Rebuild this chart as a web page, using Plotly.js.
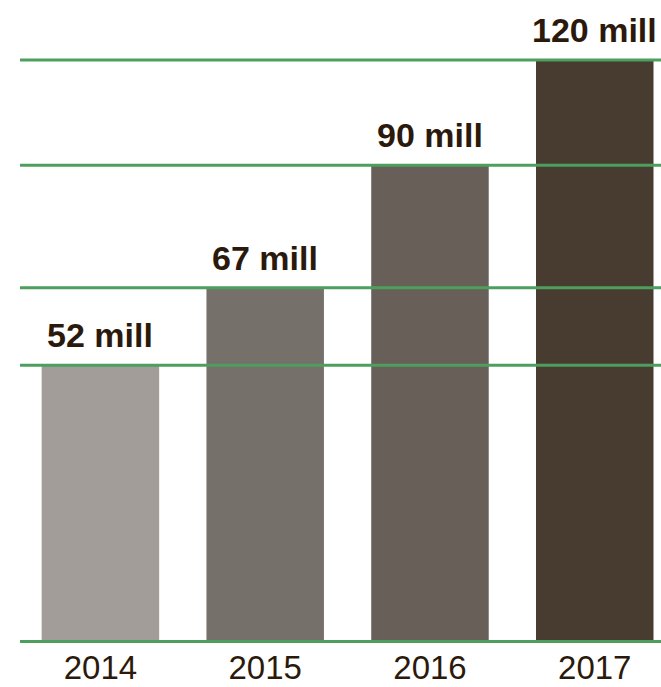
<!DOCTYPE html>
<html>
<head>
<meta charset="utf-8">
<script src="https://cdn.plot.ly/plotly-3.0.1.min.js"></script>
<style>html,body{margin:0;padding:0;background:#fff;}#chart{width:661px;height:687px;}</style>
</head>
<body>
<div id="chart"></div>
<script>
// Data
var years = ["2014", "2015", "2016", "2017"];
var valueLabels = ["52 mill", "67 mill", "90 mill", "120 mill"];
// Bar heights as drawn in the picture (the drawing is not to the labelled scale)
var barHeights = [57, 73, 98.3, 120];
var barColors = ["#a29d99", "#76706b", "#685f59", "#483b30"];

var green = "#4c9f5c";
var textColor = "#2b1a0c";

var trace = {
  type: "bar",
  x: years,
  y: barHeights,
  width: 0.713,
  marker: { color: barColors, line: { width: 0 } },
  hoverinfo: "skip"
};

var shapes = [0].concat(barHeights).map(function (h) {
  return {
    type: "line", xref: "paper", yref: "y",
    x0: 0, x1: 1, y0: h, y1: h,
    line: { color: green, width: 3 },
    layer: "above"
  };
});

var annotations = years.map(function (yr, i) {
  return {
    xref: "x", yref: "y",
    x: i, y: barHeights[i],
    text: "<b>" + valueLabels[i] + "</b>",
    showarrow: false,
    xanchor: "center", yanchor: "bottom",
    yshift: 9,
    font: { family: "Liberation Sans, Arial, sans-serif", size: 34, color: textColor }
  };
});

var layout = {
  width: 661, height: 687,
  margin: { l: 20, r: 0, t: 20, b: 44 },
  paper_bgcolor: "#fff", plot_bgcolor: "#fff",
  showlegend: false,
  xaxis: {
    type: "category",
    range: [-0.488, 3.402],
    showgrid: false, zeroline: false, showline: false,
    ticks: "",
    ticklabelstandoff: 2,
    tickfont: { family: "Liberation Sans, Arial, sans-serif", size: 33, color: textColor }
  },
  yaxis: {
    range: [-0.31, 128.25],
    showgrid: false, zeroline: false, showline: false,
    showticklabels: false, ticks: ""
  },
  shapes: shapes,
  annotations: annotations
};

Plotly.newPlot("chart", [trace], layout, { displayModeBar: false, staticPlot: true });
</script>
</body>
</html>
